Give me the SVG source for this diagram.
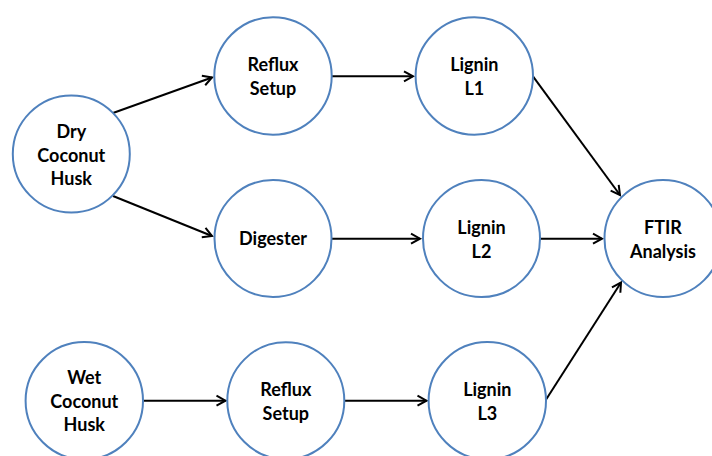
<svg xmlns="http://www.w3.org/2000/svg" width="712" height="456" viewBox="0 0 712 456">
<style>
.node circle{fill:#fff;stroke:#4F81BD;stroke-width:2}
.node text{font-family:Lato,"Liberation Sans",sans-serif;font-weight:bold;font-size:18px;fill:#000;text-anchor:middle}
.conn line{stroke:#000;stroke-width:2;marker-end:url(#arr)}
</style>
<defs>
<marker id="arr" markerUnits="userSpaceOnUse" markerWidth="14" markerHeight="14" refX="9" refY="5" orient="auto" overflow="visible">
<path d="M0,0 L9,5 L0,10" fill="none" stroke="#000" stroke-width="2"/>
</marker>
</defs>
<rect width="712" height="456" fill="#fff"/>
<g class="conn" id="connectors">
<line x1="113" y1="113" x2="212" y2="77.5"/>
<line x1="113" y1="196" x2="212" y2="236"/>
<line x1="332" y1="76.3" x2="413" y2="76.3"/>
<line x1="533" y1="76.3" x2="620" y2="195"/>
<line x1="332" y1="238.7" x2="420" y2="238.7"/>
<line x1="540" y1="238.7" x2="602" y2="238.7"/>
<line x1="143.3" y1="400.7" x2="225.5" y2="400.7"/>
<line x1="344.3" y1="400.7" x2="426.5" y2="400.7"/>
<line x1="545.3" y1="400.7" x2="621" y2="282.5"/>
</g>
<g class="node" id="dry"><circle cx="71.3" cy="154" r="58.5"/><text x="71.3"><tspan x="71.3" y="137.5">Dry</tspan><tspan x="71.3" y="161.5">Coconut</tspan><tspan x="71.3" y="185">Husk</tspan></text></g>
<g class="node" id="reflux1"><circle cx="273" cy="76" r="58.7"/><text><tspan x="273" y="71">Reflux</tspan><tspan x="273" y="94.5">Setup</tspan></text></g>
<g class="node" id="lignin1"><circle cx="474.3" cy="76" r="58.7"/><text><tspan x="474.3" y="71">Lignin</tspan><tspan x="474.3" y="94.5">L1</tspan></text></g>
<g class="node" id="digester"><circle cx="273" cy="238.5" r="58.5"/><text x="273" y="244.7">Digester</text></g>
<g class="node" id="lignin2"><circle cx="481.5" cy="238.5" r="58.5"/><text><tspan x="481.5" y="234">Lignin</tspan><tspan x="481.5" y="257.5">L2</tspan></text></g>
<g class="node" id="ftir"><circle cx="663" cy="238.5" r="58.5"/><text><tspan x="663" y="234">FTIR</tspan><tspan x="663" y="257.5">Analysis</tspan></text></g>
<g class="node" id="wet"><circle cx="84.3" cy="400.7" r="58.7"/><text><tspan x="84.3" y="384">Wet</tspan><tspan x="84.3" y="407.7">Coconut</tspan><tspan x="84.3" y="431.3">Husk</tspan></text></g>
<g class="node" id="reflux2"><circle cx="285.8" cy="400.7" r="58.5"/><text><tspan x="285.8" y="396">Reflux</tspan><tspan x="285.8" y="419.5">Setup</tspan></text></g>
<g class="node" id="lignin3"><circle cx="487.3" cy="400.7" r="58.7"/><text><tspan x="487.3" y="396">Lignin</tspan><tspan x="487.3" y="419.5">L3</tspan></text></g>
</svg>
